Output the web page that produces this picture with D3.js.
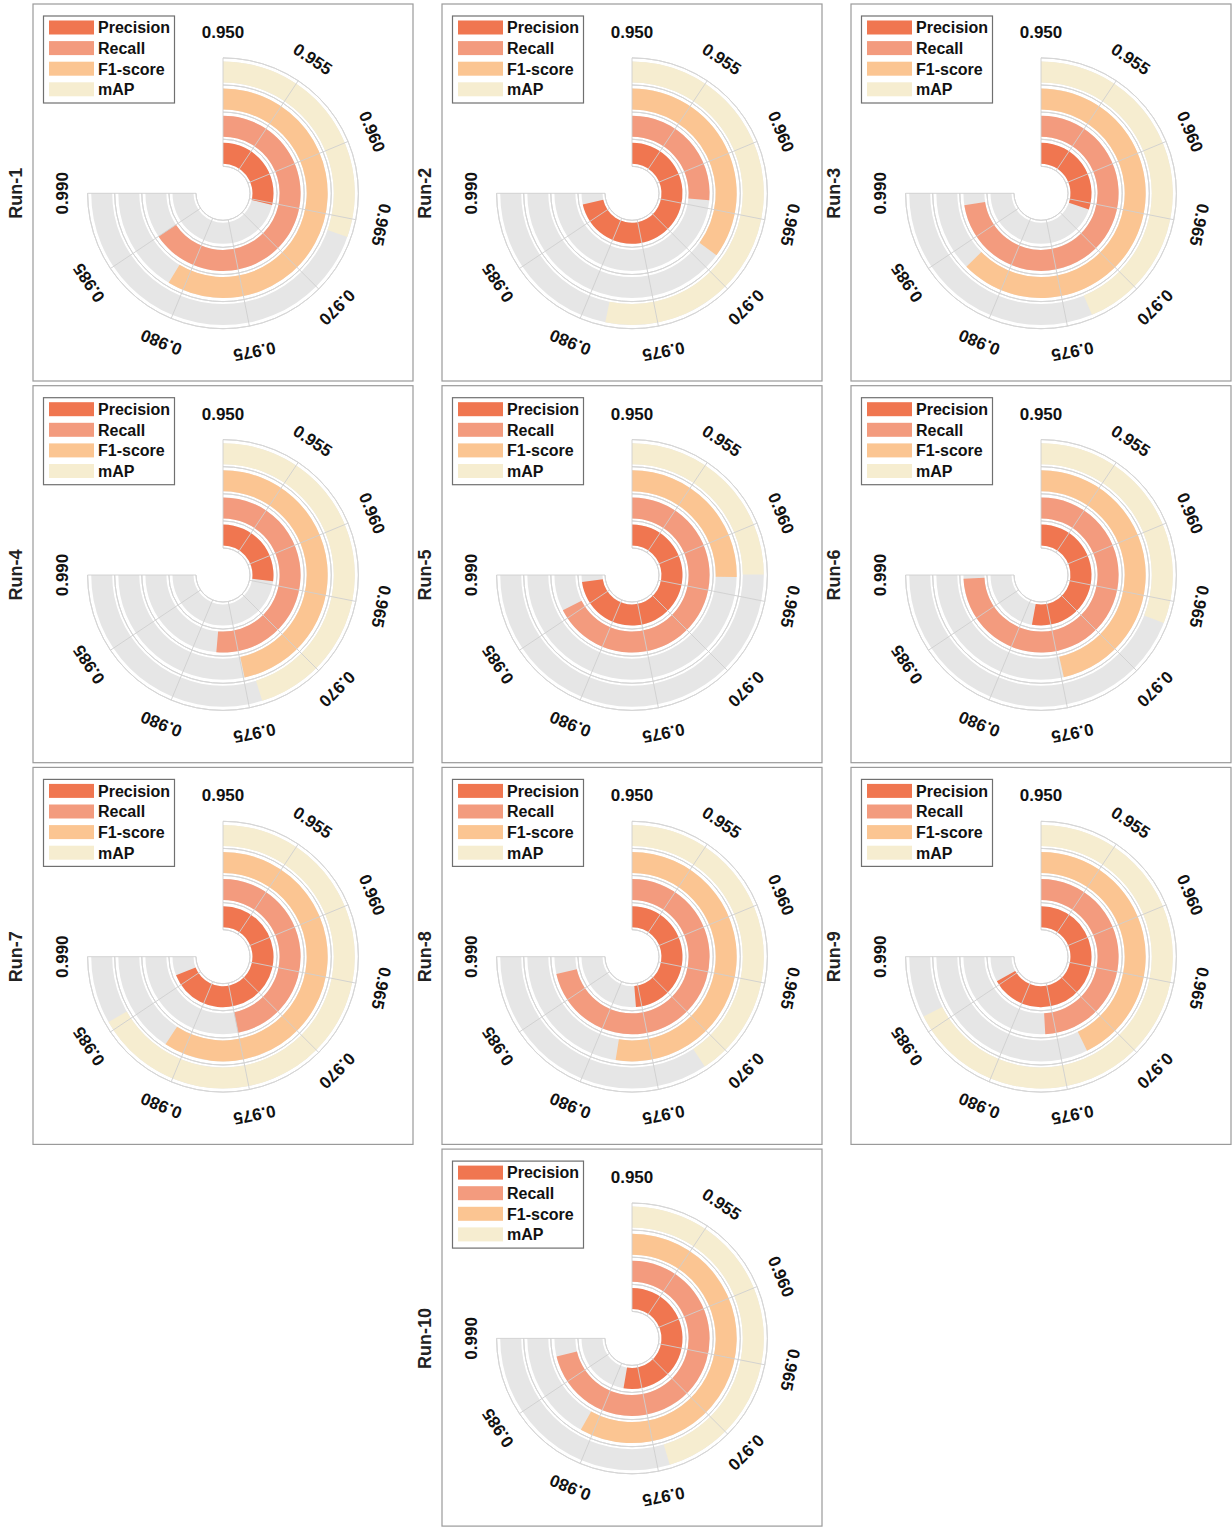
<!DOCTYPE html>
<html>
<head>
<meta charset="utf-8">
<script src="https://cdn.jsdelivr.net/npm/d3@7"></script>
<style>
  body { margin: 0; background: #fff; }
  svg { display: block; font-family: "Liberation Sans", Arial, Helvetica, sans-serif; font-weight: bold; }
</style>
</head>
<body>
<svg id="chart" width="1232" height="1529"></svg>
<script>
// values, one entry per run
const runs = ['Run-1', 'Run-2', 'Run-3', 'Run-4', 'Run-5', 'Run-6', 'Run-7', 'Run-8', 'Run-9', 'Run-10'];
const metrics = ['Precision', 'Recall', 'F1-score', 'mAP'];
const precision = [0.9653, 0.9881, 0.9661, 0.9644, 0.9888, 0.9782, 0.9868, 0.9760, 0.9857, 0.9781];
const recall    = [0.9850, 0.9641, 0.9887, 0.9774, 0.9860, 0.9896, 0.9750, 0.9881, 0.9762, 0.9880];
const f1score   = [0.9813, 0.9687, 0.9834, 0.9749, 0.9635, 0.9748, 0.9816, 0.9780, 0.9728, 0.9810];
const mAP       = [0.9662, 0.9784, 0.9733, 0.9741, 0.9633, 0.9665, 0.9856, 0.9717, 0.9860, 0.9742];
const ticks = [0.950, 0.955, 0.960, 0.965, 0.970, 0.975, 0.980, 0.985, 0.990];
const colors = ['#F07650', '#F39B7E', '#FBC592', '#F6EDD0'];

function translate(x, y) {
    return `translate(${x},${y})`;
}

const svg = d3.select('#chart');

let panelW = 380, panelH = 377;
let cx = 190, cy = 189.3;
let rInner = 27, rOuter = 135.4;

let angle = d3.scaleLinear().domain([0.95, 0.99]).range([0, 1.5 * Math.PI]);
let ring = d3.scaleBand().domain(metrics).range([rInner, rOuter]);
let color = d3.scaleOrdinal().domain(metrics).range(colors);

let arc = d3.arc()
    .innerRadius(d => ring(d.metric) + 2.5)
    .outerRadius(d => ring(d.metric) + ring.bandwidth() - 3.6)
    .startAngle(0)
    .endAngle(d => angle(d.value));

let seriesByMetric = [precision, recall, f1score, mAP];

runs.forEach((run, i) => {
    let col = i < 9 ? i % 3 : 1;
    let row = Math.floor(i / 3);
    let px = 33 + col * 409;
    let py = 4 + row * 381.7;

    let panel = svg.append('g').attr('transform', translate(px, py));

    panel.append('rect')
        .attr('x', 0).attr('y', 0)
        .attr('width', panelW).attr('height', panelH)
        .attr('fill', '#fff')
        .attr('stroke', '#9a9a9a')
        .attr('stroke-width', 1.2);

    // run label, rotated on the left of the frame
    panel.append('text')
        .attr('transform', translate(-17, cy) + ' rotate(-90)')
        .attr('text-anchor', 'middle')
        .attr('dominant-baseline', 'central')
        .style('font-size', '18px')
        .style('fill', '#222')
        .text(run);

    let g = panel.append('g').attr('transform', translate(cx, cy));

    let rows = metrics.map((m, k) => ({ metric: m, value: seriesByMetric[k][i] }));

    // grey track for each ring
    g.selectAll('path.track')
        .data(rows.map(d => ({ metric: d.metric, value: 0.99 })))
        .enter()
        .append('path')
        .attr('class', 'track')
        .attr('d', arc)
        .attr('fill', '#E6E6E6');

    g.selectAll('path.bar')
        .data(rows)
        .enter()
        .append('path')
        .attr('class', 'bar')
        .attr('d', arc)
        .attr('fill', d => color(d.metric));

    // circular grid lines between rings
    let circleR = metrics.map(m => ring(m)).concat([rOuter]);
    g.selectAll('path.rgrid')
        .data(circleR)
        .enter()
        .append('path')
        .attr('class', 'rgrid')
        .attr('d', r => d3.arc()({ innerRadius: r, outerRadius: r, startAngle: 0, endAngle: angle(0.99) }))
        .attr('fill', 'none')
        .attr('stroke', '#d6d6d6')
        .attr('stroke-width', 1);

    // radial grid lines at the ticks
    g.selectAll('line.tgrid')
        .data(ticks)
        .enter()
        .append('line')
        .attr('class', 'tgrid')
        .attr('x1', d => rInner * Math.sin(angle(d)))
        .attr('y1', d => -rInner * Math.cos(angle(d)))
        .attr('x2', d => rOuter * Math.sin(angle(d)))
        .attr('y2', d => -rOuter * Math.cos(angle(d)))
        .attr('stroke', '#cfcfcf')
        .attr('stroke-width', 0.9);

    let labelR = 161;
    g.selectAll('text.tick')
        .data(ticks)
        .enter()
        .append('text')
        .attr('class', 'tick')
        .attr('transform', d => translate(labelR * Math.sin(angle(d)), -labelR * Math.cos(angle(d)))
            + ` rotate(${angle(d) * 180 / Math.PI})`)
        .attr('text-anchor', 'middle')
        .attr('dominant-baseline', 'central')
        .style('font-size', '17px')
        .style('fill', '#111')
        .text(d => d3.format('.3f')(d));

    // legend
    let lg = panel.append('g').attr('transform', translate(10.5, 12));
    lg.append('rect')
        .attr('width', 131).attr('height', 87)
        .attr('fill', '#fff')
        .attr('stroke', '#707070')
        .attr('stroke-width', 1.2);

    let items = lg.selectAll('g.item')
        .data(metrics)
        .enter()
        .append('g')
        .attr('class', 'item')
        .attr('transform', (d, k) => translate(0, 4.5 + k * 20.6));

    items.append('rect')
        .attr('x', 5.5).attr('y', 0)
        .attr('width', 45).attr('height', 14)
        .attr('fill', d => color(d));

    items.append('text')
        .attr('x', 54.5).attr('y', 7.3)
        .attr('dominant-baseline', 'central')
        .style('font-size', '16px')
        .style('fill', '#111')
        .text(d => d);
});
</script>
</body>
</html>
